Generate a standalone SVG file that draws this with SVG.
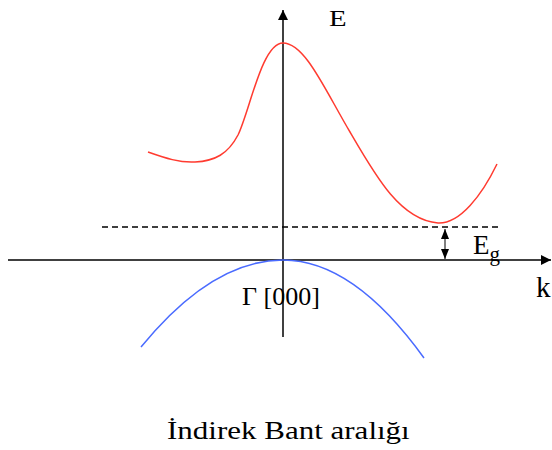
<svg xmlns="http://www.w3.org/2000/svg" width="552" height="450" viewBox="0 0 552 450">
<style>
.t{font-family:"Liberation Serif","Times New Roman",serif;fill:#000}
.ax{stroke:#000;stroke-width:1.5;fill:none}
</style>
<defs>
<marker id="ah" viewBox="0 0 10 10" refX="10" refY="5" markerWidth="10" markerHeight="10" markerUnits="userSpaceOnUse" orient="auto-start-reverse">
<path d="M0,1 L10,5 L0,9 Z" fill="#000"/>
</marker>
<marker id="big" viewBox="0 0 10 10" refX="10" refY="5" markerWidth="13" markerHeight="10" markerUnits="userSpaceOnUse" orient="auto">
<path d="M0,0 L10,5 L0,10 Z" fill="#000"/>
</marker>
</defs>
<rect width="552" height="450" fill="#fff"/>
<g id="axes">
<line class="ax" x1="283" y1="337" x2="283" y2="10" marker-end="url(#big)"/>
<line class="ax" x1="8" y1="260" x2="551" y2="260" marker-end="url(#big)"/>
</g>
<g id="bands">
<path d="M148,152 C165,158 180,163 195,162 C215,161 228,154 238,135 C250,110 262,43 283,43 C305,43 325,90 350,132 C375,175 400,220 438,223 C460,224 482,195 497,164" fill="none" stroke="#ff3b30" stroke-width="1.5"/>
<path d="M141,347 Q212,260 283,260 Q353.5,260 424,358" fill="none" stroke="#4a6bff" stroke-width="1.5"/>
</g>
<g id="connectors">
<line x1="102" y1="227" x2="500" y2="227" stroke="#000" stroke-width="1.4" stroke-dasharray="6,4"/>
<line x1="445" y1="229" x2="445" y2="259" stroke="#000" stroke-width="1" marker-start="url(#ah)" marker-end="url(#ah)"/>
</g>
<g id="labels">
<text class="t" transform="translate(329,26) scale(1.2,1)" font-size="24">E</text>
<text class="t" x="473" y="254" font-size="27">E<tspan font-size="21" dy="7">g</tspan></text>
<text class="t" x="536" y="297" font-size="29">k</text>
<text class="t" x="242" y="305" font-size="26">Γ [000]</text>
<text class="t" transform="translate(167,439) scale(1.24,1)" font-size="25">İndirek Bant aralığı</text>
</g>
</svg>
